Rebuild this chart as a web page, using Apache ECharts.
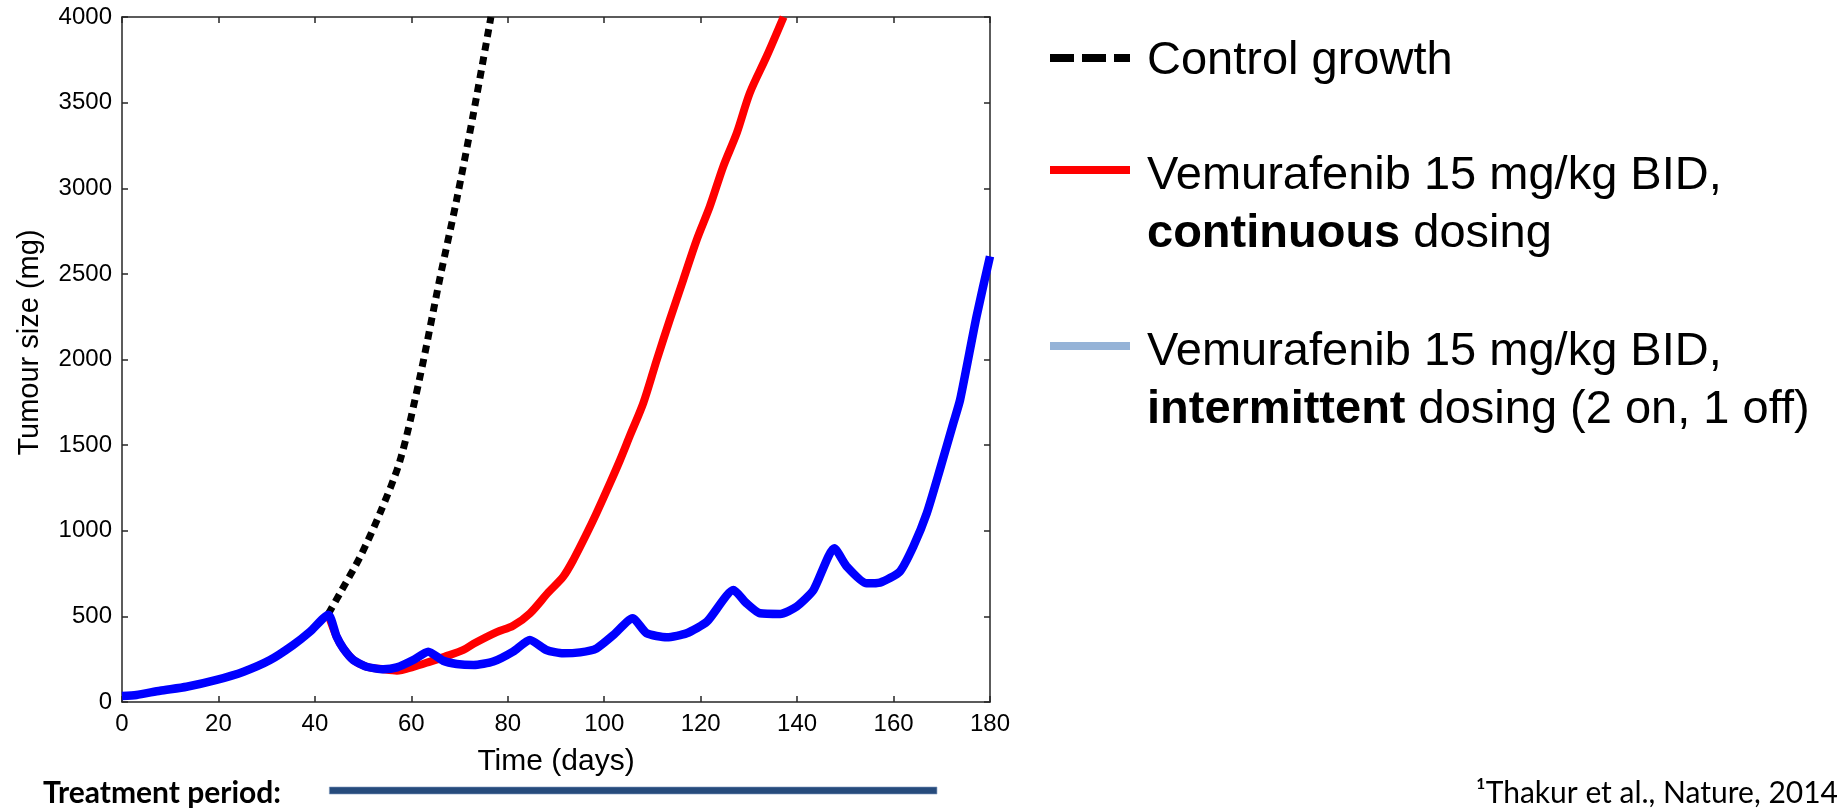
<!DOCTYPE html>
<html>
<head>
<meta charset="utf-8">
<script src="https://cdn.jsdelivr.net/npm/echarts@6/dist/echarts.min.js"></script>
<style>
  html, body { margin: 0; padding: 0; background: #ffffff; }
  #chart { width: 1837px; height: 808px; }
</style>
</head>
<body>
<div id="chart"></div>
<script>
// ---------------- data ----------------
const seriesNames = [
  'Control growth',
  'Vemurafenib 15 mg/kg BID, continuous dosing',
  'Vemurafenib 15 mg/kg BID, intermittent dosing (2 on, 1 off)'
];

const controlDays  = [42.8, 45.2, 49.4, 53.5, 57.7, 61.8, 66.0, 69.4, 72.9, 76.5];
const controlSizes = [515, 635, 849, 1103, 1414, 1900, 2485, 2933, 3440, 4000];

const continuousDays  = [42.8, 44.5, 45.9, 48.0, 50.7, 54.2, 57.0, 60.4, 63.9, 67.0, 70.8, 72.9, 77.7, 81.1, 84.6, 88.4, 91.5, 93.6, 96.4, 98.4, 101.2, 103.3, 105.4, 108.1, 110.9, 113.6, 116.4, 119.2, 121.9, 124.7, 127.5, 130.2, 133.7, 137.2];
const continuousSizes = [510, 382, 313, 245, 206, 191, 183, 205, 236, 265, 304, 340, 408, 445, 518, 640, 732, 830, 985, 1103, 1278, 1414, 1560, 1745, 1998, 2232, 2466, 2700, 2894, 3128, 3323, 3557, 3771, 4000];

const intermittentDays  = [0, 3, 7.9, 13.4, 19.6, 25.2, 30.7, 35.5, 39.0, 42.8, 44.5, 45.9, 48.0, 50.7, 54.2, 57.0, 60.4, 63.5, 66.6, 69.4, 72.9, 77.0, 81.1, 84.6, 88.0, 91.5, 95.0, 98.4, 101.9, 105.9, 108.8, 113.0, 117.1, 121.3, 126.8, 129.5, 132.3, 136.5, 139.9, 143.4, 147.7, 150.3, 154.4, 157.2, 161.3, 164.1, 166.9, 169.6, 172.4, 173.8, 177.2, 180];
const intermittentSizes = [35, 41, 66, 89, 129, 177, 245, 333, 411, 510, 382, 313, 245, 206, 191, 202, 245, 294, 241, 222, 216, 236, 294, 362, 304, 284, 290, 313, 391, 489, 401, 378, 401, 469, 654, 577, 518, 514, 557, 654, 898, 791, 693, 697, 762, 908, 1103, 1356, 1629, 1765, 2251, 2602];

const treatmentPeriod = [43, 169];   // days

const xMin = 0, xMax = 180, xStep = 20;
const yMin = 0, yMax = 4000, yStep = 500;

const axisTitleX = 'Time (days)';
const axisTitleY = 'Tumour size (mg)';
const treatmentLabel = 'Treatment period:';
const footnote = '\u00B9Thakur et al., Nature, 2014';

// ---------------- chart ----------------
const zip = (xs, ys) => xs.map((x, i) => [x, ys[i]]);
const ARIAL = '"Liberation Sans", Arial, sans-serif';
const CALIBRI = 'Lato, "Open Sans", sans-serif';

const chart = echarts.init(document.getElementById('chart'), null, { renderer: 'canvas' });

const axisLineStyle = { show: true, onZero: false, lineStyle: { color: '#262626', width: 1.5 } };
const axisTickStyle = { show: true, inside: true, length: 6, lineStyle: { color: '#262626', width: 1.5 } };

const legendText = {
  fontFamily: ARIAL, fontSize: 47, color: '#000', lineHeight: 58,
  backgroundColor: 'rgba(255,255,255,0)',
  rich: { b: { fontFamily: ARIAL, fontSize: 47, fontWeight: 'bold', color: '#000', lineHeight: 58 } }
};
function legendFormatter(name) {
  if (name === seriesNames[1]) return 'Vemurafenib 15 mg/kg BID,\n{b|continuous} dosing';
  if (name === seriesNames[2]) return 'Vemurafenib 15 mg/kg BID,\n{b|intermittent} dosing (2 on, 1 off)';
  return name;
}
function makeLegend(idx, top, padTop, padBottom, lineStyle) {
  return {
    show: true, orient: 'vertical', left: 1046, top: top, padding: 0,
    itemWidth: 80, itemHeight: 8, itemGap: 0, selectedMode: false,
    formatter: legendFormatter,
    textStyle: Object.assign({}, legendText, { padding: [padTop, 0, padBottom, 12] }),
    data: [{ name: seriesNames[idx], lineStyle: lineStyle, itemStyle: { color: lineStyle.color, opacity: 0 } }]
  };
}

const option = {
  animation: false,
  backgroundColor: '#ffffff',
  textStyle: { fontFamily: ARIAL },
  grid: { left: 122, top: 17, width: 868, height: 685, containLabel: false, outerBoundsMode: 'none' },
  legend: [
    makeLegend(0, 26, 6, 0, { color: '#000000', width: 8, type: [24, 8] }),
    makeLegend(1, 76.5, 71, 0, { color: '#ff0000', width: 8, type: 'solid' }),
    makeLegend(2, 250, 73, 3, { color: '#95b3d7', width: 8, type: 'solid' })
  ],
  xAxis: [
    {
      type: 'value', min: xMin, max: xMax, interval: xStep, position: 'bottom',
      axisLine: axisLineStyle, axisTick: axisTickStyle, splitLine: { show: false },
      axisLabel: { fontFamily: ARIAL, fontSize: 24, color: '#000', margin: 10, formatter: v => String(v) },
      name: axisTitleX, nameLocation: 'middle', nameGap: 45,
      nameTextStyle: { fontFamily: ARIAL, fontSize: 30, color: '#000' }
    },
    {
      type: 'value', min: xMin, max: xMax, interval: xStep, position: 'top',
      axisLine: axisLineStyle, axisTick: axisTickStyle, splitLine: { show: false },
      axisLabel: { show: false }
    }
  ],
  yAxis: [
    {
      type: 'value', min: yMin, max: yMax, interval: yStep, position: 'left',
      axisLine: axisLineStyle, axisTick: axisTickStyle, splitLine: { show: false },
      axisLabel: { fontFamily: ARIAL, fontSize: 24, color: '#000', margin: 10, formatter: v => String(v) },
      name: axisTitleY, nameLocation: 'middle', nameGap: 78,
      nameTextStyle: { fontFamily: ARIAL, fontSize: 29, color: '#000', padding: [0, 0, 0, 34] }
    },
    {
      type: 'value', min: yMin, max: yMax, interval: yStep, position: 'right',
      axisLine: axisLineStyle, axisTick: axisTickStyle, splitLine: { show: false },
      axisLabel: { show: false }
    }
  ],
  series: [
    {
      name: seriesNames[0], type: 'line', data: zip(controlDays, controlSizes),
      symbol: 'none', showSymbol: false, z: 2, smooth: 0.3,
      lineStyle: { color: '#000000', width: 7, type: [8, 6] }, itemStyle: { color: '#000000' }
    },
    {
      name: seriesNames[1], type: 'line', data: zip(continuousDays, continuousSizes),
      symbol: 'none', showSymbol: false, z: 3, smooth: 0.3,
      lineStyle: { color: '#ff0000', width: 8, join: 'round' }, itemStyle: { color: '#ff0000' }
    },
    {
      name: seriesNames[2], type: 'line', data: zip(intermittentDays, intermittentSizes),
      symbol: 'none', showSymbol: false, z: 4, smooth: 0.2,
      lineStyle: { color: '#0000ff', width: 8.5, join: 'round' }, itemStyle: { color: '#0000ff' }
    }
  ]
};

chart.setOption(option);

// treatment-period bar positioned through the x-axis scale
const tx0 = chart.convertToPixel({ xAxisIndex: 0 }, treatmentPeriod[0]);
const tx1 = chart.convertToPixel({ xAxisIndex: 0 }, treatmentPeriod[1]);

chart.setOption({
  graphic: {
    elements: [
      {
        type: 'text', x: 43, y: 793,
        style: { text: treatmentLabel, font: 'bold 30px ' + CALIBRI, fill: '#000', align: 'left', verticalAlign: 'middle' }
      },
      {
        type: 'rect', shape: { x: tx0, y: 787, width: tx1 - tx0, height: 7 },
        style: { fill: '#264b7c', stroke: '#7f99bd', lineWidth: 0.6 }
      },
      {
        type: 'text', x: 1838, y: 793,
        style: { text: footnote, font: '30px ' + CALIBRI, fill: '#000', align: 'right', verticalAlign: 'middle' }
      }
    ]
  }
});
</script>
</body>
</html>
